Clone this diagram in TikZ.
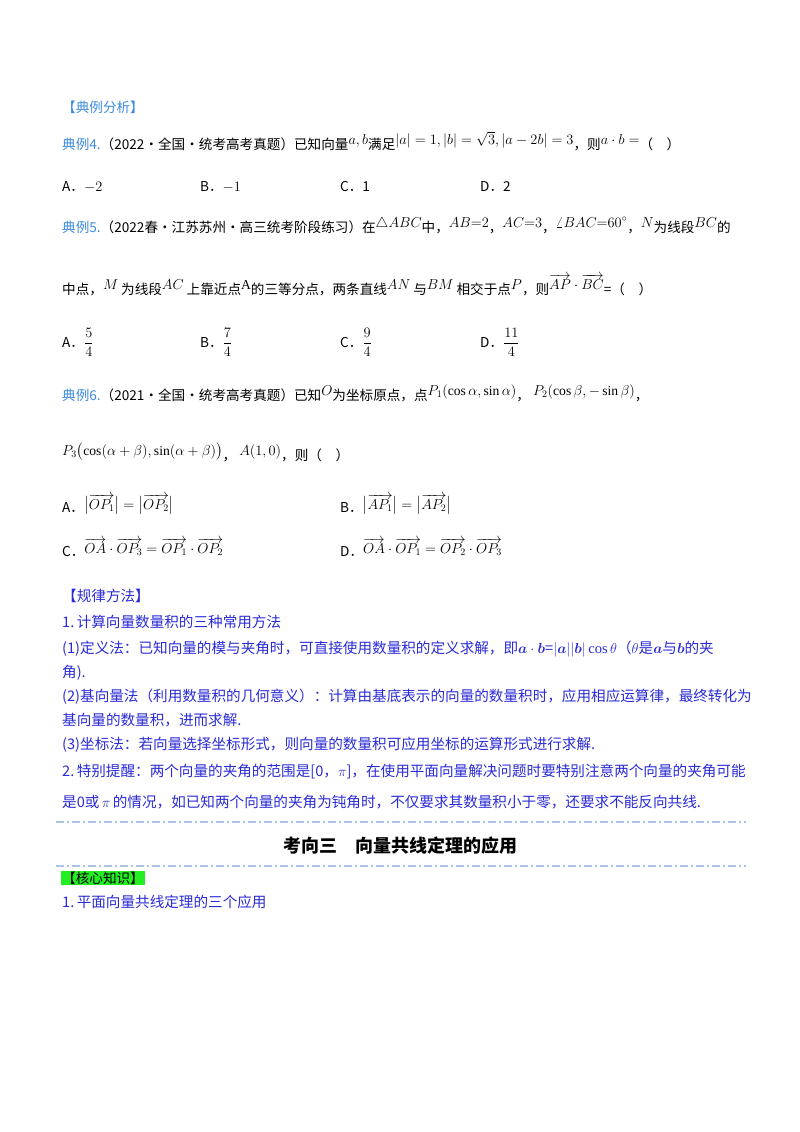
\documentclass[tikz,border=0pt]{standalone}
\usepackage{fontspec}
\usepackage{amsmath}
\setmainfont{Liberation Serif}
\newfontfamily\cjk{Noto Sans CJK SC}
\newcommand{\upm}[1]{\raisebox{5pt}{$#1$}}
\definecolor{hblue}{HTML}{3D8BE0}
\definecolor{tblue}{HTML}{2B2BD6}
\definecolor{dashc}{HTML}{A9C5E3}
\definecolor{hgreen}{HTML}{22EE22}
\begin{document}
\begin{tikzpicture}[x=1pt,y=-1pt,
  txt/.style={anchor=base west,inner sep=0pt,font=\cjk\fontsize{13.6}{15}\selectfont},
  btxt/.style={txt,text=tblue,font=\cjk\fontsize{14.6}{15}\selectfont},
  sep/.style={dashc,line width=1.6pt,dash pattern=on 8pt off 3pt on 2pt off 3pt}]
\useasboundingbox[fill=white] (0,0) rectangle (800,1132);
\node[txt,text=hblue] (h1) at (62,112) {【典例分析】};
\node[txt] (e4) at (62,149) {\textcolor{hblue}{典例4.}（2022·全国·统考高考真题）已知向量\upm{a,b}满足\upm{|a|=1,|b|=\sqrt3,|a-2b|=3}，则\upm{a\cdot b=}（\quad ）};
\node[txt] (o4a) at (62,191) {A．$-2$};
\node[txt] (o4b) at (200,191) {B．$-1$};
\node[txt] (o4c) at (340,191) {C．1};
\node[txt] (o4d) at (480,191) {D．2};
\node[txt] (e5) at (62,232) {\textcolor{hblue}{典例5.}（2022春·江苏苏州·高三统考阶段练习）在\upm{\triangle ABC}中，\upm{AB{=}2}，\upm{AC{=}3}，\upm{\angle BAC{=}60^\circ}，\upm{N}为线段\upm{BC}的};
\node[txt] (e5b) at (62,294) {中点，\upm{M}\ 为线段\upm{AC}\ 上靠近点\upm{\mathrm{A}}的三等分点，两条直线\upm{AN}\ 与\upm{BM}\ 相交于点\upm{P}，则\upm{\overrightarrow{AP}\cdot\overrightarrow{BC}}=（\quad ）};
\node[txt] (o5a) at (62,347) {A．$\dfrac54$};
\node[txt] (o5b) at (200,347) {B．$\dfrac74$};
\node[txt] (o5c) at (340,347) {C．$\dfrac94$};
\node[txt] (o5d) at (480,347) {D．$\dfrac{11}4$};
\node[txt] (e6) at (62,400) {\textcolor{hblue}{典例6.}（2021·全国·统考高考真题）已知\upm{O}为坐标原点，点\upm{P_1(\cos\alpha,\sin\alpha)}，\ \upm{P_2(\cos\beta,-\sin\beta)}，};
\node[txt] (e6b) at (62,460) {\upm{P_3\bigl(\cos(\alpha+\beta),\sin(\alpha+\beta)\bigr)}，\ \upm{A(1,0)}，则（\quad ）};
\node[txt] (o6a) at (62,512) {A．\raisebox{3pt}{$\bigl|\overrightarrow{OP_1}\bigr|=\bigl|\overrightarrow{OP_2}\bigr|$}};
\node[txt] (o6b) at (340,512) {B．\raisebox{3pt}{$\bigl|\overrightarrow{AP_1}\bigr|=\bigl|\overrightarrow{AP_2}\bigr|$}};
\node[txt] (o6c) at (62,556) {C．\raisebox{3pt}{$\overrightarrow{OA}\cdot\overrightarrow{OP_3}=\overrightarrow{OP_1}\cdot\overrightarrow{OP_2}$}};
\node[txt] (o6d) at (340,556) {D．\raisebox{3pt}{$\overrightarrow{OA}\cdot\overrightarrow{OP_1}=\overrightarrow{OP_2}\cdot\overrightarrow{OP_3}$}};
\node[btxt] (h2) at (62,601) {【规律方法】};
\node[btxt] (r1) at (62,627) {1.\,计算向量数量积的三种常用方法};
\node[btxt] (r2) at (62,653) {(1)定义法：已知向量的模与夹角时，可直接使用数量积的定义求解，即$\boldsymbol a\cdot\boldsymbol b$=$|\boldsymbol a||\boldsymbol b|\cos\theta$（$\theta$是$\boldsymbol a$与$\boldsymbol b$的夹};
\node[btxt] (r3) at (62,677) {角).};
\node[btxt] (r4) at (62,701) {(2)基向量法（利用数量积的几何意义）：计算由基底表示的向量的数量积时，应用相应运算律，最终转化为};
\node[btxt] (r5) at (62,725) {基向量的数量积，进而求解.};
\node[btxt] (r6) at (62,749) {(3)坐标法：若向量选择坐标形式，则向量的数量积可应用坐标的运算形式进行求解.};
\node[btxt] (r7) at (62,776) {2.\,特别提醒：两个向量的夹角的范围是[0，$\pi$]，在使用平面向量解决问题时要特别注意两个向量的夹角可能};
\node[btxt] (r8) at (62,807) {是0或\,$\pi$\,的情况，如已知两个向量的夹角为钝角时，不仅要求其数量积小于零，还要求不能反向共线.};
\coordinate (s1a) at (56,822); \coordinate (s1b) at (746,822);
\draw[sep] (s1a) -- (s1b);
\node[inner sep=0pt,font=\cjk\bfseries\fontsize{18}{20}\selectfont] (title) at (400,846) {考向三\quad 向量共线定理的应用};
\coordinate (s2a) at (56,866); \coordinate (s2b) at (746,866);
\draw[sep] (s2a) -- (s2b);
\node[fill=hgreen,inner sep=1pt,anchor=west,font=\cjk\fontsize{13.6}{15}\selectfont] (h3) at (61,878) {【核心知识】};
\node[btxt] (k1) at (62,907) {1.\,平面向量共线定理的三个应用};
\end{tikzpicture}
\end{document}
